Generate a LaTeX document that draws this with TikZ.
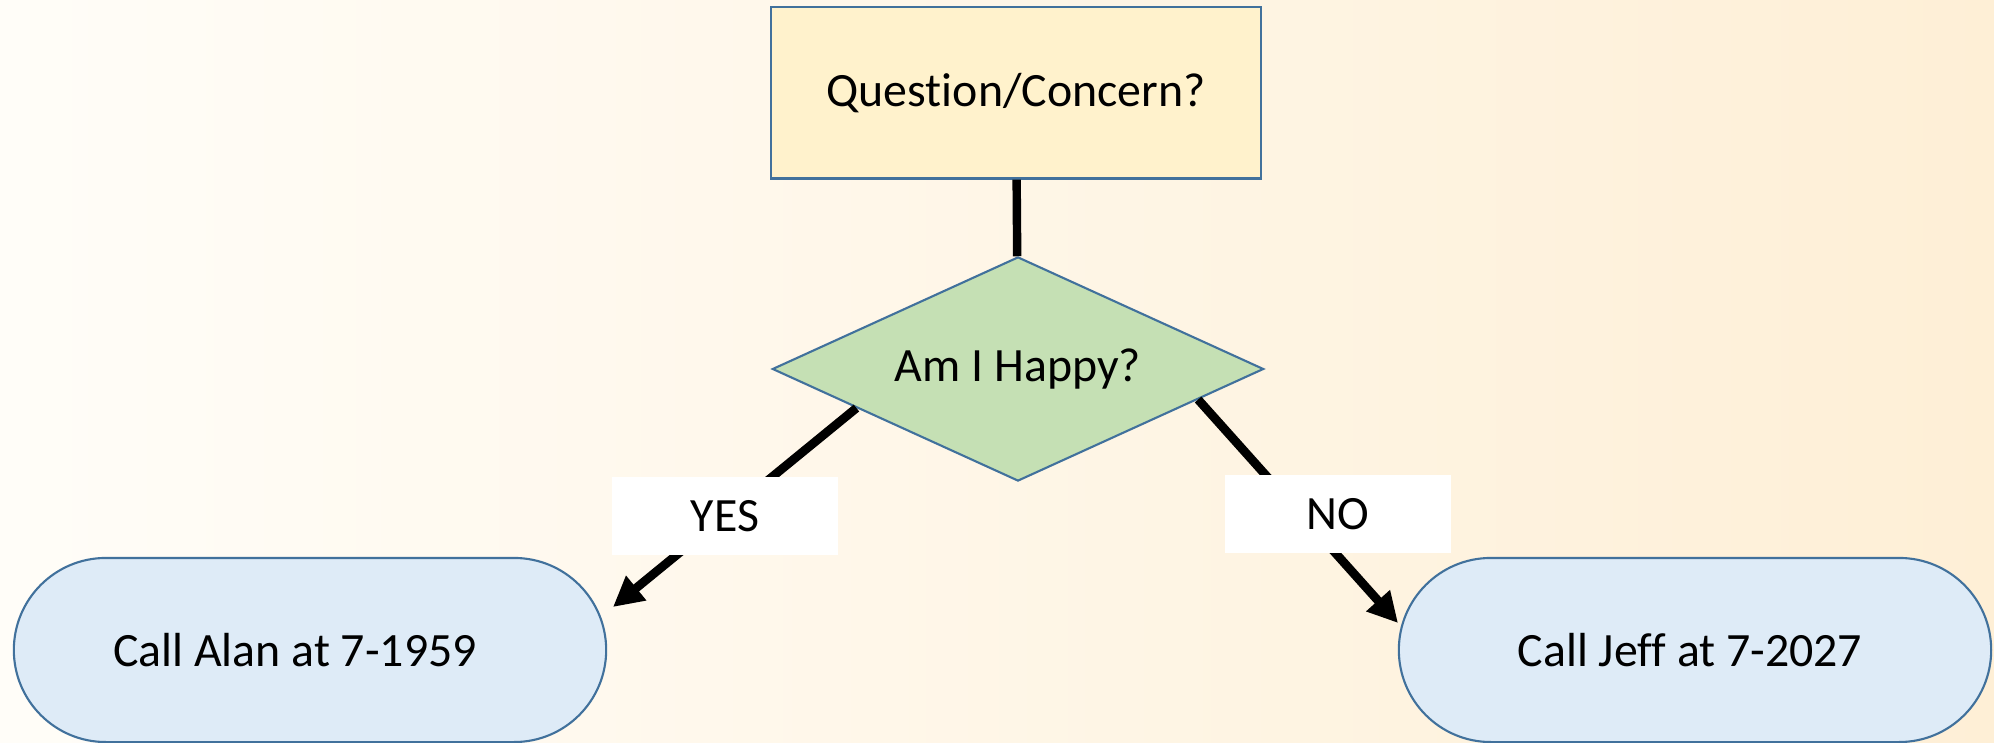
\documentclass[tikz,border=0pt]{standalone}
\usepackage{fontspec}
\setmainfont{Carlito}[Ligatures={NoCommon,NoRequired,NoContextual}]
\usetikzlibrary{arrows.meta,shapes.geometric,calc}
\definecolor{bgleft}{RGB}{255,253,248}
\definecolor{bgright}{RGB}{254,239,214}
\definecolor{edgeblue}{RGB}{65,113,156}
\definecolor{boxgold}{RGB}{255,242,204}
\definecolor{diagreen}{RGB}{197,224,180}
\definecolor{callblue}{RGB}{222,235,247}

\begin{document}
\begin{tikzpicture}[
  x=0.01cm, y=-0.01cm,
  startbox/.style={draw=edgeblue, line width=0.6pt, fill=boxgold, rectangle, minimum width=4.89cm, minimum height=1.71cm, inner sep=0pt},
  decision/.style={draw=edgeblue, line width=0.6pt, fill=diagreen, diamond, aspect=2.2, minimum width=4.91cm, minimum height=2.24cm, inner sep=0pt},
  callnode/.style={draw=edgeblue, line width=0.6pt, fill=callblue, rectangle, rounded corners=0.92cm, minimum width=5.92cm, minimum height=1.84cm},
  answer/.style={fill=white, minimum width=2.26cm, minimum height=0.77cm, inner sep=0pt},
  flow/.style={line width=2.5pt, -{Triangle[length=0.3cm, width=0.3cm]}},
  font=\fontsize{13.6}{16}\selectfont
]
% Background
\useasboundingbox (0,0) rectangle (1994,743);
\shade[left color=bgleft, right color=bgright] (0,0) rectangle (1994,743);

% Draw shapes
\node[startbox] (question) at (1016,93) {Question/Concern?};
\node[decision] (happy) at (1018,369) {Am I Happy?};
\node[callnode] (alan) at (310,650) {Call Alan at 7-1959\kern0.3cm};
\node[callnode] (jeff) at (1695,650) {Call Jeff at 7-2027\kern0.1cm};

% Connectors
\draw[line width=2.4pt] (question) -- (happy);
\coordinate (yesend) at (613,607);
\coordinate (noend) at (1398,623);
\draw[flow] ($(happy.west)!0.345!(happy.south)$) -- (yesend);
\draw[flow] ($(happy.east)!0.27!(happy.south)$) -- (noend);

% Answer labels
\node[answer] (yes) at (725,516) {YES};
\node[answer] (no) at (1338,514) {NO};
\end{tikzpicture}
\end{document}
